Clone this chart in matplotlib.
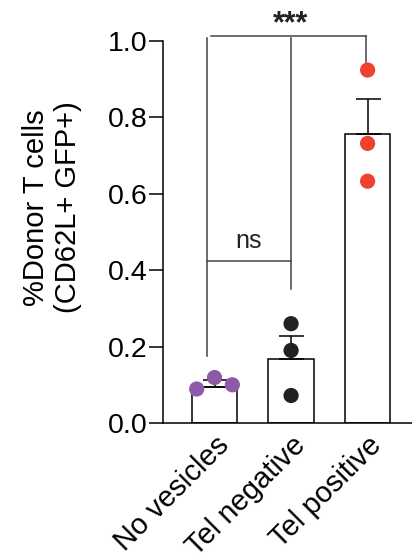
import numpy as np
import matplotlib
matplotlib.use("Agg")
import matplotlib.pyplot as plt

plt.rcParams["font.family"] = ["Liberation Sans", "DejaVu Sans"]

# groups and per-animal values
groups = ["No vesicles", "Tel negative", "Tel positive"]
bar_means = [0.095, 0.167, 0.756]
bar_sem = [0.018, 0.061, 0.092]
points = [
    [0.089, 0.119, 0.100],
    [0.260, 0.190, 0.072],
    [0.924, 0.732, 0.633],
]
point_offsets = [
    [-0.233, 0.0, 0.233],
    [0.0, 0.0, 0.0],
    [0.0, 0.0, 0.0],
]
point_colors = ["#8d5aa7", "#222222", "#ee4130"]

fig = plt.figure(figsize=(4.12, 5.6), dpi=100)
ax = fig.add_axes([163 / 412, 1 - 423 / 560, 1 - 163 / 412, 382 / 560])

x = np.arange(len(groups))
ax.bar(x, bar_means, width=0.59, color="white", edgecolor="black",
       linewidth=1.1, zorder=1)
ax.errorbar(x, bar_means, yerr=[np.zeros(3), bar_sem], fmt="none",
            ecolor="black", elinewidth=1.1, capsize=9, capthick=1.1, zorder=2)
for i in range(len(groups)):
    ax.scatter(x[i] + np.array(point_offsets[i]), points[i], s=120,
               color=point_colors[i], edgecolor="none", zorder=3, clip_on=False)

ax.set_xlim(-0.673, 2.58)
ax.set_ylim(0, 1.0)
ax.set_yticks([0, 0.2, 0.4, 0.6, 0.8, 1.0])
ax.set_yticklabels(["0.0", "0.2", "0.4", "0.6", "0.8", "1.0"])
ax.set_xticks(x)
ax.set_xticklabels(groups, rotation=45, ha="right", rotation_mode="anchor")
ax.tick_params(axis="y", length=10, width=1.1, labelsize=20.5, pad=1)
ax.tick_params(axis="x", length=0, labelsize=21, pad=6)
for s in ["top", "right"]:
    ax.spines[s].set_visible(False)
ax.spines["left"].set_linewidth(1.1)
ax.spines["bottom"].set_linewidth(1.1)

# significance brackets
lc = "#444444"
lw = 1.1
ax.plot([-0.1, -0.1], [1.008, 0.176], color=lc, lw=lw, clip_on=False)
ax.plot([1.0, 1.0], [1.008, 0.35], color=lc, lw=lw, clip_on=False)
ax.plot([-0.1, 1.0], [0.423, 0.423], color=lc, lw=lw, clip_on=False)
ax.plot([-0.05, 1.98], [1.014, 1.014], color=lc, lw=lw, clip_on=False)
ax.plot([1.98, 1.98], [1.014, 0.945], color=lc, lw=lw, clip_on=False)
ax.text(0.44, 0.476, "ns", ha="center", va="center", fontsize=18, color="#222222")
ax.text(1.0, 1.045, "***", ha="center", va="center", fontsize=22,
        fontweight="bold", color="#222222")

fig.text(0.126, 0.630, "%Donor T cells\n(CD62L+ GFP+)", rotation=90,
         ha="center", va="center", multialignment="center", fontsize=21,
         linespacing=1.15)

fig.savefig("out.png", dpi=100)
